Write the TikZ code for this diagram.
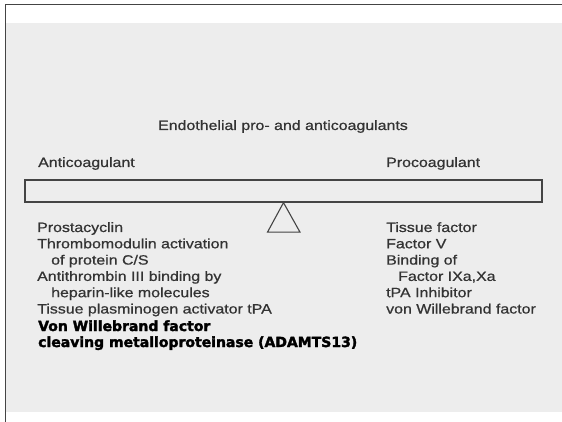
\documentclass[tikz,border=0pt]{standalone}
\usepackage{fontspec}
\setmainfont{Liberation Sans}[FakeStretch=1.18, FakeBold=0.7]
\newfontfamily\heavyfont{DejaVu Sans}[BoldFeatures={FakeBold=2.2}]
\usetikzlibrary{positioning}

\definecolor{paper}{HTML}{EDEDED}
\definecolor{ink}{HTML}{333333}
\definecolor{rule}{HTML}{444444}

\begin{document}
\begin{tikzpicture}
    [ x = 1pt, y = -1pt
    , heading/.style =
      { inner sep=0pt, anchor=base, text=ink, font=\fontsize{13.5}{16.3}\selectfont }
    , itemtext/.style =
      { inner sep=0pt, anchor=base west, text=ink, font=\fontsize{13.5}{16.3}\selectfont }
    , keytext/.style =
      { inner sep=0pt, anchor=base west, text=black, font=\heavyfont\bfseries\fontsize{14}{16}\selectfont }
    , beam/.style =
      { draw=rule, line width=1.3pt, minimum width=517pt, minimum height=22pt, inner sep=0pt }
    , pivot/.style =
      { draw=rule, line width=1.1pt, line join=miter }
    ]
    \useasboundingbox (0,0) rectangle (562,422);
    \fill [white] (0,0) rectangle (562,422);
    \fill [paper] (5,23) rectangle (562,412);
    \draw [rule, line width=1.5pt] (562,4.5) -- (5.5,4.5) -- (5.5,422);

    \node [heading] (title) at (283,130) {Endothelial pro- and anticoagulants};
    \node [itemtext] (anti) at (38,167) {Anticoagulant};
    \node [itemtext] (pro) at (386,167) {Procoagulant};

    \node [beam] (beam) at (283.5,191) {};
    \draw [pivot] (beam.south) -- ++(-16,29.5) -- ++(32.5,0) -- cycle;

    % anticoagulant side
    \node [itemtext] (a1) at (37,232) {Prostacyclin};
    \node [itemtext] (a2) [below=16.3pt of a1.base west, anchor=base west] {Thrombomodulin activation};
    \node [itemtext] (a3) [below=16.3pt of a2.base west, anchor=base west, xshift=14pt] {of protein C/S};
    \node [itemtext] (a4) [below=16.3pt of a2.base west, anchor=base west, yshift=-16.3pt] {Antithrombin III binding by};
    \node [itemtext] (a5) [below=16.3pt of a4.base west, anchor=base west, xshift=14pt] {heparin-like molecules};
    \node [itemtext] (a6) [below=16.3pt of a4.base west, anchor=base west, yshift=-16.3pt] {Tissue plasminogen activator tPA};
    \node [keytext] (k1) at (38,331) {Von Willebrand factor};
    \node [keytext] (k2) [below=16pt of k1.base west, anchor=base west] {cleaving metalloproteinase (ADAMTS13)};

    % procoagulant side
    \node [itemtext] (p1) at (386,232) {Tissue factor};
    \node [itemtext] (p2) [below=16.3pt of p1.base west, anchor=base west] {Factor V};
    \node [itemtext] (p3) [below=16.3pt of p2.base west, anchor=base west] {Binding of};
    \node [itemtext] (p4) [below=16.3pt of p3.base west, anchor=base west, xshift=12pt] {Factor IXa,Xa};
    \node [itemtext] (p5) [below=16.3pt of p3.base west, anchor=base west, yshift=-16.3pt] {tPA Inhibitor};
    \node [itemtext] (p6) [below=16.3pt of p5.base west, anchor=base west] {von Willebrand factor};
  \end{tikzpicture}
\end{document}
